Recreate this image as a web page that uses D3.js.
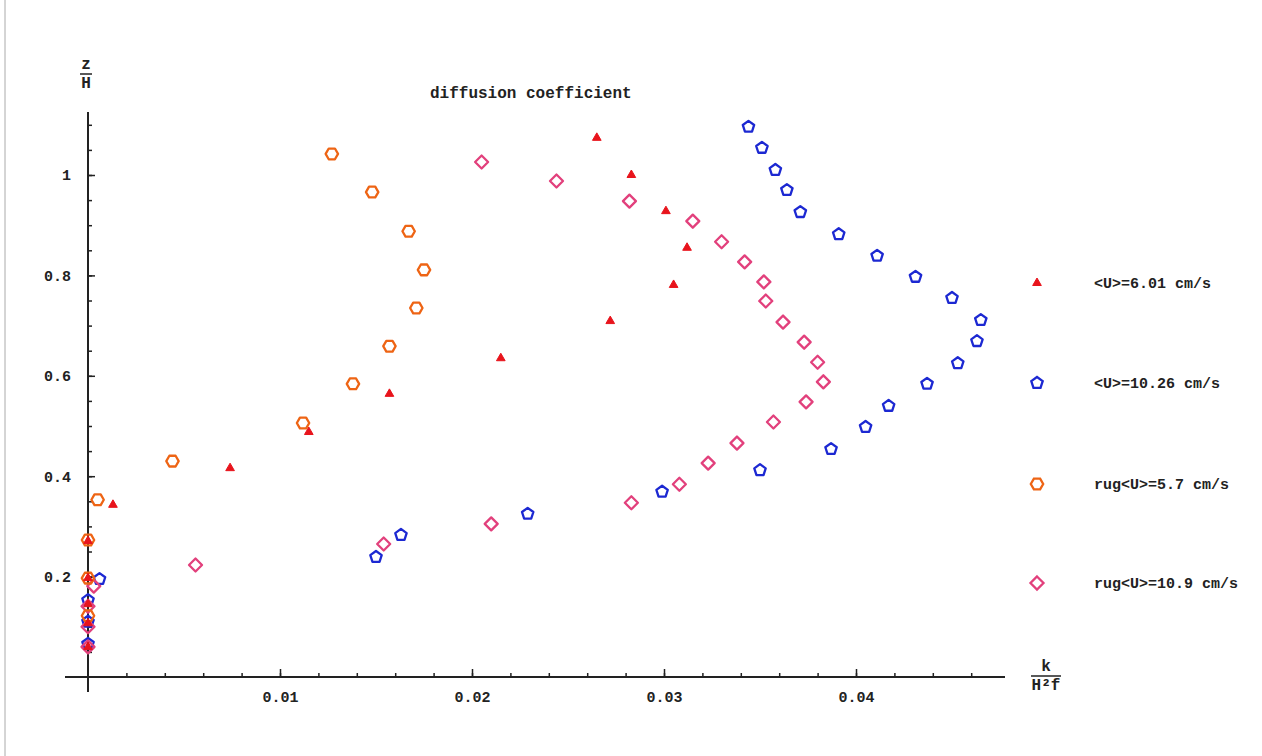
<!DOCTYPE html>
<html>
<head>
<meta charset="utf-8">
<script src="https://cdn.jsdelivr.net/npm/d3@7"></script>
<style>
  body { margin: 0; background: #fff; }
  svg { display: block; }
  text { font-family: "Liberation Mono", "DejaVu Sans Mono", monospace; font-weight: bold; fill: #222; }
</style>
</head>
<body>
<svg id="chart" width="1262" height="756"></svg>
<script>
// diffusion coefficient profiles
let seriesNames = ["<U>=6.01 cm/s", "<U>=10.26 cm/s", "rug<U>=5.7 cm/s", "rug<U>=10.9 cm/s"];

let smoothSlowK = [0.0265, 0.0283, 0.0301, 0.0312, 0.0305, 0.0272, 0.0215, 0.0157, 0.0115, 0.0074, 0.0013, 0, 0, 0, 0, 0];
let smoothSlowZ = [1.074, 1.0, 0.928, 0.855, 0.781, 0.709, 0.635, 0.564, 0.488, 0.416, 0.343, 0.271, 0.197, 0.145, 0.107, 0.06];

let smoothFastK = [0.0344, 0.0351, 0.0358, 0.0364, 0.0371, 0.0391, 0.0411, 0.0431, 0.0450, 0.0465, 0.0463, 0.0453, 0.0437, 0.0417, 0.0405, 0.0387, 0.0350, 0.0299, 0.0229, 0.0163, 0.0150, 0.0006, 0, 0, 0];
let smoothFastZ = [1.096, 1.054, 1.01, 0.970, 0.926, 0.882, 0.839, 0.797, 0.755, 0.711, 0.669, 0.625, 0.584, 0.540, 0.498, 0.454, 0.412, 0.369, 0.325, 0.283, 0.239, 0.195, 0.153, 0.11, 0.066];

let roughSlowK = [0.0127, 0.0148, 0.0167, 0.0175, 0.0171, 0.0157, 0.0138, 0.0112, 0.0044, 0.0005, 0, 0, 0];
let roughSlowZ = [1.042, 0.966, 0.888, 0.811, 0.735, 0.659, 0.584, 0.506, 0.430, 0.353, 0.273, 0.197, 0.122];

let roughFastK = [0.0205, 0.0244, 0.0282, 0.0315, 0.0330, 0.0342, 0.0352, 0.0353, 0.0362, 0.0373, 0.0380, 0.0383, 0.0374, 0.0357, 0.0338, 0.0323, 0.0308, 0.0283, 0.0210, 0.0154, 0.0056, 0.0003, 0, 0, 0];
let roughFastZ = [1.026, 0.988, 0.948, 0.908, 0.867, 0.827, 0.787, 0.749, 0.707, 0.667, 0.627, 0.588, 0.548, 0.508, 0.466, 0.426, 0.384, 0.347, 0.305, 0.265, 0.223, 0.181, 0.141, 0.1, 0.06];

let xTicks = [0.01, 0.02, 0.03, 0.04];
let yTicks = [0.2, 0.4, 0.6, 0.8, 1];

let svg = d3.select("#chart");

let x = d3.scaleLinear().domain([0, 0.04]).range([88, 856]);
let y = d3.scaleLinear().domain([0, 1]).range([677, 175]);

// thin border on the far left of the scan
svg.append("line")
    .attr("x1", 5).attr("x2", 5).attr("y1", 0).attr("y2", 756)
    .attr("stroke", "#aaa").attr("stroke-width", 1);

// axis lines
svg.append("line")
    .attr("x1", 65).attr("x2", 1005).attr("y1", y(0)).attr("y2", y(0))
    .attr("stroke", "#222").attr("stroke-width", 2);
svg.append("line")
    .attr("x1", x(0)).attr("x2", x(0)).attr("y1", 112).attr("y2", 692)
    .attr("stroke", "#222").attr("stroke-width", 2);

// minor ticks
svg.append("g")
    .attr("transform", "translate(0," + y(0) + ")")
    .call(d3.axisBottom(x).tickValues(d3.range(1, 24).map(i => i * 0.002)).tickSize(-4).tickFormat(""))
    .call(g => g.select(".domain").remove())
    .call(g => g.selectAll("line").attr("stroke", "#222").attr("stroke-width", 1.5));
svg.append("g")
    .attr("transform", "translate(" + x(0) + ",0)")
    .call(d3.axisLeft(y).tickValues(d3.range(1, 23).map(i => i * 0.05)).tickSize(-4).tickFormat(""))
    .call(g => g.select(".domain").remove())
    .call(g => g.selectAll("line").attr("stroke", "#222").attr("stroke-width", 1.5));

// major ticks + labels
svg.append("g")
    .attr("transform", "translate(0," + y(0) + ")")
    .call(d3.axisBottom(x).tickValues(xTicks).tickSizeInner(-8).tickSizeOuter(0).tickPadding(14).tickFormat(d3.format(".2f")))
    .call(g => g.select(".domain").remove())
    .call(g => g.selectAll("line").attr("stroke", "#222").attr("stroke-width", 1.5))
    .call(g => g.selectAll("text").attr("font-size", 15).attr("fill", "#222")
        .style("font-family", "Liberation Mono").style("font-weight", "bold"));
svg.append("g")
    .attr("transform", "translate(" + x(0) + ",0)")
    .call(d3.axisLeft(y).tickValues(yTicks).tickSizeInner(-7).tickSizeOuter(0).tickPadding(17).tickFormat(d => d === 1 ? "1" : d3.format(".1f")(d)))
    .call(g => g.select(".domain").remove())
    .call(g => g.selectAll("line").attr("stroke", "#222").attr("stroke-width", 1.5))
    .call(g => g.selectAll("text").attr("font-size", 15).attr("fill", "#222")
        .style("font-family", "Liberation Mono").style("font-weight", "bold"));

// axis titles (fractions)
function fraction(cx, top, num, den, w) {
    svg.append("text").attr("x", cx).attr("y", top).attr("text-anchor", "middle")
        .attr("font-size", 16).text(num);
    svg.append("line").attr("x1", cx - w / 2).attr("x2", cx + w / 2)
        .attr("y1", top + 5).attr("y2", top + 5).attr("stroke", "#222").attr("stroke-width", 1.5);
    svg.append("text").attr("x", cx).attr("y", top + 19).attr("text-anchor", "middle")
        .attr("font-size", 16).text(den);
}
fraction(86, 69, "z", "H", 12);
fraction(1046, 671, "k", "H\u00b2f", 30);

svg.append("text")
    .attr("x", 430).attr("y", 98)
    .attr("font-size", 16)
    .text("diffusion coefficient");

// marker shapes
function polygon(n, r, rot) {
    let pts = d3.range(n).map(i => {
        let a = rot + i * 2 * Math.PI / n;
        return [r * Math.sin(a), -r * Math.cos(a)];
    });
    return "M" + pts.join("L") + "Z";
}

let series = [
    { name: seriesNames[0], k: smoothSlowK, z: smoothSlowZ, color: "#e8141c", fill: true, path: polygon(3, 5, 0) },
    { name: seriesNames[1], k: smoothFastK, z: smoothFastZ, color: "#1c28d2", fill: false, path: polygon(5, 6, 0) },
    { name: seriesNames[2], k: roughSlowK, z: roughSlowZ, color: "#ee6414", fill: false, path: polygon(6, 6.2, Math.PI / 6) },
    { name: seriesNames[3], k: roughFastK, z: roughFastZ, color: "#e2407c", fill: false, path: polygon(4, 6.5, 0) }
];

// draw the hollow series first, the filled triangles last
[1, 3, 2, 0].forEach(si => {
    let s = series[si];
    svg.append("g").selectAll("path")
        .data(s.k.map((k, i) => ({ k: k, z: s.z[i] })))
        .enter()
        .append("path")
        .attr("d", s.path)
        .attr("transform", d => "translate(" + x(d.k) + "," + y(d.z) + ")")
        .attr("fill", s.fill ? s.color : "none")
        .attr("stroke", s.color)
        .attr("stroke-width", s.fill ? 1 : 2.3)
        .attr("stroke-linejoin", "round");
});

// legend
let legendY = [283, 383, 484, 583];
series.forEach((s, i) => {
    svg.append("path")
        .attr("d", s.path)
        .attr("transform", "translate(1037," + legendY[i] + ")")
        .attr("fill", s.fill ? s.color : "none")
        .attr("stroke", s.color)
        .attr("stroke-width", s.fill ? 1 : 2.3);
    svg.append("text")
        .attr("x", 1094).attr("y", legendY[i] + 5)
        .attr("font-size", 15)
        .text(s.name);
});
</script>
</body>
</html>
